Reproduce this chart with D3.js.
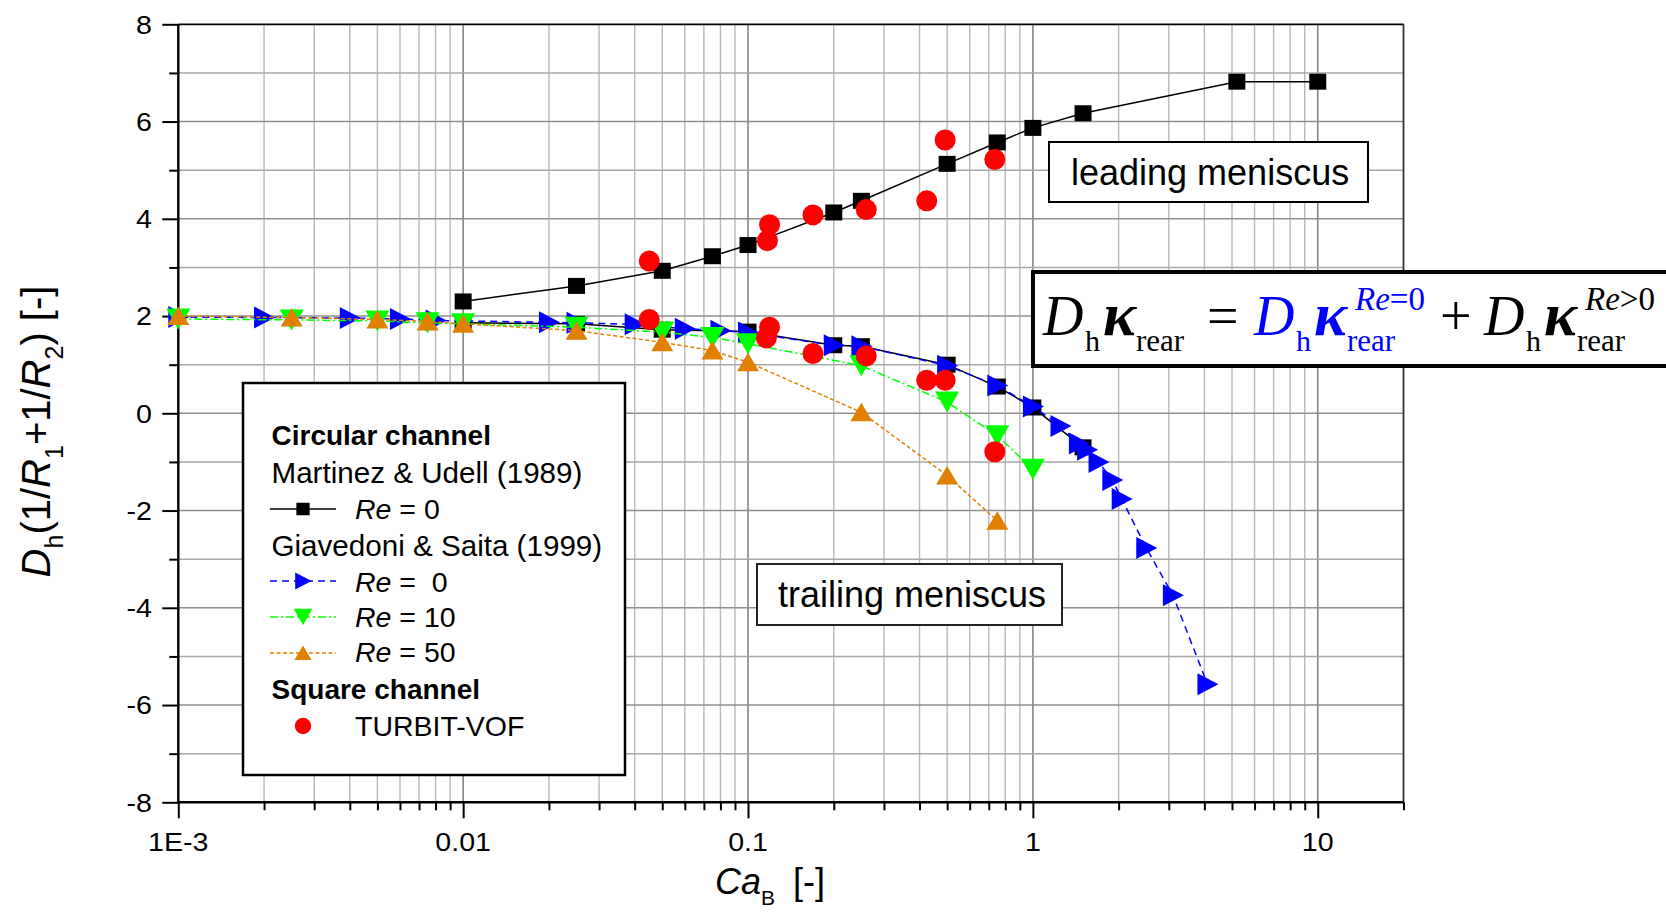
<!DOCTYPE html>
<html>
<head>
<meta charset="utf-8">
<script src="https://cdn.jsdelivr.net/npm/d3@7"></script>
<style>
  body { margin: 0; background: #fff; }
  svg { display: block; }
  text { font-family: "Liberation Sans", Arial, sans-serif; fill: #000; white-space: pre; }
  .serif { font-family: "Liberation Serif", "Times New Roman", serif; }
</style>
</head>
<body>
<svg id="chart" width="1666" height="912"></svg>
<script>
// ---- Data: bubble capillary number Ca_B vs. dimensionless meniscus curvature ----

// Martinez & Udell (1989), circular channel, Re = 0
const martinezLeading = [
  [0.01, 2.30], [0.025, 2.62], [0.05, 2.93], [0.075, 3.23], [0.1, 3.46],
  [0.2, 4.13], [0.25, 4.37], [0.5, 5.13], [0.75, 5.57], [1.0, 5.87],
  [1.5, 6.17], [5.2, 6.82], [10, 6.82]
];
const martinezTrailing = [
  [0.01, 1.86], [0.025, 1.84], [0.05, 1.72], [0.1, 1.68], [0.2, 1.40],
  [0.25, 1.38], [0.5, 1.00], [0.75, 0.55], [1.0, 0.12], [1.5, -0.70]
];

// Giavedoni & Saita (1999), circular channel, trailing meniscus
const giavedoniRe0 = [
  [0.001, 1.98], [0.002, 1.97], [0.004, 1.96], [0.006, 1.94], [0.008, 1.91],
  [0.02, 1.87], [0.025, 1.86], [0.04, 1.83], [0.06, 1.74], [0.08, 1.70],
  [0.1, 1.66], [0.2, 1.40], [0.25, 1.38], [0.5, 0.98], [0.75, 0.57],
  [1.0, 0.14], [1.25, -0.26], [1.45, -0.62], [1.55, -0.75], [1.7, -1.00],
  [1.9, -1.37], [2.05, -1.76], [2.5, -2.77], [3.1, -3.74], [4.1, -5.57]
];
const giavedoniRe10 = [
  [0.001, 1.94], [0.0025, 1.92], [0.005, 1.90], [0.0075, 1.86], [0.01, 1.84],
  [0.025, 1.77], [0.05, 1.67], [0.075, 1.56], [0.1, 1.43], [0.25, 0.98],
  [0.5, 0.23], [0.75, -0.46], [1.0, -1.15]
];
const giavedoniRe50 = [
  [0.001, 2.00], [0.0025, 1.97], [0.005, 1.93], [0.0075, 1.89], [0.01, 1.84],
  [0.025, 1.70], [0.05, 1.46], [0.075, 1.29], [0.1, 1.05], [0.25, 0.02],
  [0.5, -1.28], [0.75, -2.21]
];

// TURBIT-VOF, square channel
const turbitLeading = [
  [0.045, 3.13], [0.117, 3.55], [0.119, 3.88], [0.169, 4.08], [0.26, 4.19],
  [0.424, 4.37], [0.492, 5.62], [0.735, 5.22]
];
const turbitTrailing = [
  [0.045, 1.93], [0.116, 1.55], [0.119, 1.77], [0.169, 1.23], [0.26, 1.18],
  [0.424, 0.68], [0.492, 0.68], [0.735, -0.79]
];

// Axis ticks
const xMajorTicks = [0.001, 0.01, 0.1, 1, 10];
const xTickLabels = ["1E-3", "0.01", "0.1", "1", "10"];
const yMajorTicks = [8, 6, 4, 2, 0, -2, -4, -6, -8];
const yMinorTicks = [7, 5, 3, 1, -1, -3, -5, -7];

// ---- Layout ----
const svg = d3.select("#chart");
const x = d3.scaleLog().domain([0.001, 20]).range([178.3, 1403.5]);
const y = d3.scaleLinear().domain([-8, 8]).range([802.3, 24.3]);
const [x0, x1] = x.range();
const [yb, yt] = y.range();

// minor decade ticks 2..9 within the domain
const xMinorTicks = [];
xMajorTicks.forEach(d => { for (let m = 2; m <= 9; m++) { const v = m * d; if (v <= 20 + 1e-9) xMinorTicks.push(v); } });

svg.append("rect").attr("width", 1666).attr("height", 912).attr("fill", "#fff");

// ---- Grid ----
const grid = svg.append("g");
grid.selectAll("line.vmin").data(xMinorTicks.filter(v => v < 20)).join("line")
  .attr("x1", d => x(d)).attr("x2", d => x(d)).attr("y1", yt).attr("y2", yb)
  .attr("stroke", "#b8b8b8").attr("stroke-width", 1.4);
grid.selectAll("line.vmaj").data(xMajorTicks.slice(1)).join("line")
  .attr("x1", d => x(d)).attr("x2", d => x(d)).attr("y1", yt).attr("y2", yb)
  .attr("stroke", "#858585").attr("stroke-width", 1.6);
grid.selectAll("line.h").data(d3.range(-7, 8)).join("line")
  .attr("x1", x0).attr("x2", x1).attr("y1", d => y(d)).attr("y2", d => y(d))
  .attr("stroke", d => d % 2 === 0 ? "#8f8f8f" : "#a8a8a8").attr("stroke-width", 1.6);

// ---- Frame and axes ----
svg.append("line").attr("x1", x0).attr("x2", x1).attr("y1", yt).attr("y2", yt).attr("stroke", "#000").attr("stroke-width", 1.8);
svg.append("line").attr("x1", x1).attr("x2", x1).attr("y1", yt).attr("y2", yb).attr("stroke", "#333").attr("stroke-width", 1.8);

function styleAxis(g) {
  g.select(".domain").remove();
  g.selectAll(".tick line").attr("stroke", "#000").attr("stroke-width", 2);
  g.selectAll(".tick text").remove();
}
svg.append("g").attr("transform", `translate(${x0},0)`)
  .call(d3.axisLeft(y).tickValues(yMajorTicks).tickSize(16).tickFormat("")).call(styleAxis);
svg.append("g").attr("transform", `translate(${x0},0)`)
  .call(d3.axisLeft(y).tickValues(yMinorTicks).tickSize(9).tickFormat("")).call(styleAxis);
svg.append("g").attr("transform", `translate(0,${yb})`)
  .call(d3.axisBottom(x).tickValues(xMajorTicks).tickSize(16).tickFormat("")).call(styleAxis);
svg.append("g").attr("transform", `translate(0,${yb})`)
  .call(d3.axisBottom(x).tickValues(xMinorTicks).tickSize(8).tickFormat("")).call(styleAxis);
svg.append("line").attr("x1", x0).attr("x2", x0).attr("y1", yt).attr("y2", yb).attr("stroke", "#000").attr("stroke-width", 2.4);
svg.append("line").attr("x1", x0).attr("x2", x1).attr("y1", yb).attr("y2", yb).attr("stroke", "#000").attr("stroke-width", 2.4);

// tick labels (slightly wide face)
const tickFont = 26, tickStretch = 1.1;
svg.append("g").selectAll("text").data(yMajorTicks).join("text")
  .attr("transform", d => `translate(152,${y(d) + 9.3}) scale(${tickStretch},1)`)
  .attr("text-anchor", "end").attr("font-size", tickFont).text(d => d);
svg.append("g").selectAll("text").data(xMajorTicks).join("text")
  .attr("transform", (d, i) => `translate(${x(d)},850.5) scale(${tickStretch},1)`)
  .attr("text-anchor", "middle").attr("font-size", tickFont).text((d, i) => xTickLabels[i]);

// axis titles
const xt = svg.append("text").attr("transform", "translate(715,894)").attr("font-size", 36);
xt.append("tspan").attr("font-style", "italic").text("Ca");
xt.append("tspan").attr("font-size", 21).attr("dy", 11).text("B");
xt.append("tspan").attr("x", 78).attr("dy", -11).text("[-]");

const yTitle = svg.append("text").attr("transform", "translate(50,431.5) rotate(-90)")
  .attr("text-anchor", "middle").attr("font-size", 40);
[["D", "i"], ["h", "s"], ["(1/", ""], ["R", "i"], ["1", "s"], ["+1/", ""], ["R", "i"], ["2", "s"], [") [-]", ""]]
  .forEach(([t, k], i, arr) => {
    const sp = yTitle.append("tspan").text(t);
    if (k === "i") sp.attr("font-style", "italic");
    if (k === "s") sp.attr("font-size", 25).attr("dy", 13);
    if (k !== "s" && i > 0 && arr[i - 1][1] === "s") sp.attr("dy", -13);
  });

// ---- Series ----
const path = d3.line().x(d => x(d[0])).y(d => y(d[1]));
const markers = {
  square: s => `M${-8.5 * s},${-8 * s}H${8.5 * s}V${8 * s}H${-8.5 * s}Z`,
  right: s => `M${-10 * s},${-11 * s}L${11 * s},0L${-10 * s},${11 * s}Z`,
  down: s => `M${-12 * s},${-10.5 * s}L${12 * s},${-10.5 * s}L0,${10.5 * s}Z`,
  up: s => `M${-11 * s},${9 * s}L${11 * s},${9 * s}L0,${-9.5 * s}Z`,
  circle: s => d3.symbol(d3.symbolCircle, Math.PI * (10.5 * s) ** 2)()
};

const seriesStyle = {
  martinez: { color: "#000", dash: null, marker: "square" },
  g0: { color: "#0000ff", dash: "7,5", marker: "right" },
  g10: { color: "#00ff00", dash: "8,3,2,3", marker: "down" },
  g50: { color: "#e08000", dash: "4,2.5", marker: "up" },
  turbit: { color: "#ff0000", dash: null, marker: "circle" }
};

function drawLine(data, st) {
  svg.append("path").datum(data).attr("d", path).attr("fill", "none")
    .attr("stroke", st.color).attr("stroke-width", 1.5)
    .attr("stroke-dasharray", st.dash);
}
function drawMarkers(data, st) {
  svg.append("g").selectAll("path").data(data).join("path")
    .attr("transform", d => `translate(${x(d[0])},${y(d[1])})`)
    .attr("d", markers[st.marker](1)).attr("fill", st.color);
}

drawLine(martinezLeading, seriesStyle.martinez);
drawLine(martinezTrailing, seriesStyle.martinez);
drawMarkers(martinezLeading, seriesStyle.martinez);
drawMarkers(martinezTrailing, seriesStyle.martinez);
drawLine(giavedoniRe0, seriesStyle.g0);
drawMarkers(giavedoniRe0, seriesStyle.g0);
drawLine(giavedoniRe10, seriesStyle.g10);
drawMarkers(giavedoniRe10, seriesStyle.g10);
drawLine(giavedoniRe50, seriesStyle.g50);
drawMarkers(giavedoniRe50, seriesStyle.g50);
drawMarkers(turbitLeading, seriesStyle.turbit);
drawMarkers(turbitTrailing, seriesStyle.turbit);

// ---- Annotation boxes ----
function labelBox(bx, by, bw, bh, tx, ty, label, stroke) {
  svg.append("rect").attr("x", bx).attr("y", by).attr("width", bw).attr("height", bh)
    .attr("fill", "#fff").attr("stroke", stroke).attr("stroke-width", 2);
  svg.append("text").attr("x", tx).attr("y", ty).attr("font-size", 36).text(label);
}
labelBox(1049, 142, 319, 60, 1071, 185, "leading meniscus", "#000");
labelBox(757, 564, 305, 61, 778, 607, "trailing meniscus", "#222");

// ---- Equation box ----
svg.append("rect").attr("x", 1033).attr("y", 272).attr("width", 700).attr("height", 94)
  .attr("fill", "#fff").attr("stroke", "#000").attr("stroke-width", 4);
const eq = svg.append("text").attr("class", "serif");
function term(x0, color, sup) {
  eq.append("tspan").attr("x", x0).attr("y", 335).attr("font-size", 56).attr("font-style", "italic").attr("fill", color).text("D");
  eq.append("tspan").attr("x", x0 + 42).attr("y", 351).attr("font-size", 30).attr("fill", color).text("h");
  eq.append("tspan").attr("x", x0 + 60).attr("y", 335).attr("font-size", 62).attr("font-style", "italic").attr("font-weight", "bold").attr("fill", color).text("κ");
  eq.append("tspan").attr("x", x0 + 93).attr("y", 351).attr("font-size", 31).attr("fill", color).text("rear");
  if (sup) {
    eq.append("tspan").attr("x", x0 + 101).attr("y", 310).attr("font-size", 33).attr("font-style", "italic").attr("fill", color).text("Re");
    eq.append("tspan").attr("y", 310).attr("font-size", 33).attr("fill", color).text(sup);
  }
}
term(1043, "#000", null);
eq.append("tspan").attr("x", 1207).attr("y", 335).attr("font-size", 56).text("=");
term(1254, "#0000ff", "=0");
eq.append("tspan").attr("x", 1440).attr("y", 335).attr("font-size", 56).text("+");
term(1484, "#000", ">0");

// ---- Legend ----
const lg = svg.append("g");
lg.append("rect").attr("x", 243).attr("y", 383).attr("width", 382).attr("height", 392)
  .attr("fill", "#fff").attr("stroke", "#000").attr("stroke-width", 2.5);
const lx = 271.5, symX0 = 270, symX1 = 336, symC = 303, lt = 355;
function legendText(tx, ty, parts, opts = {}) {
  const t = lg.append("text").attr("x", tx).attr("y", ty).attr("font-size", opts.size || 28.5);
  if (opts.bold) t.attr("font-weight", "bold");
  parts.forEach(([s, it]) => { const sp = t.append("tspan").text(s); if (it) sp.attr("font-style", "italic"); });
}
function legendSymbol(cy, st) {
  if (st.marker !== "circle") {
    lg.append("line").attr("x1", symX0).attr("x2", symX1).attr("y1", cy).attr("y2", cy)
      .attr("stroke", st.color).attr("stroke-width", 1.5).attr("stroke-dasharray", st.dash);
  }
  lg.append("path").attr("transform", `translate(${symC},${cy})`).attr("d", markers[st.marker](0.78)).attr("fill", st.color);
}
legendText(lx, 445, [["Circular channel", false]], { bold: true, size: 28 });
legendText(lx, 483, [["Martinez & Udell (1989)", false]], { size: 29.6 });
legendSymbol(509, seriesStyle.martinez);
legendText(lt, 519, [["Re", true], [" = 0", false]]);
legendText(lx, 556, [["Giavedoni & Saita (1999)", false]], { size: 29.6 });
legendSymbol(581, seriesStyle.g0);
legendText(lt, 592, [["Re", true], [" =  0", false]]);
legendSymbol(617, seriesStyle.g10);
legendText(lt, 627, [["Re", true], [" = 10", false]]);
legendSymbol(653, seriesStyle.g50);
legendText(lt, 662, [["Re", true], [" = 50", false]]);
legendText(lx, 699, [["Square channel", false]], { bold: true, size: 28 });
legendSymbol(726, seriesStyle.turbit);
legendText(lt, 736, [["TURBIT-VOF", false]]);
</script>
</body>
</html>
